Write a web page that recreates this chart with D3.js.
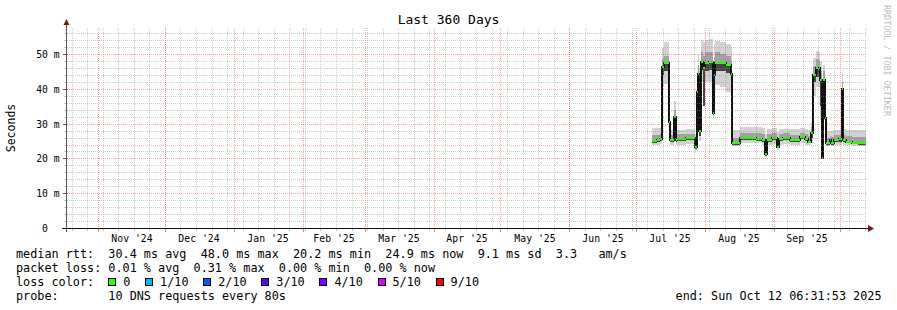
<!DOCTYPE html>
<html>
<head>
<meta charset="utf-8">
<script src="https://cdn.jsdelivr.net/npm/d3@7"></script>
<style>
  body { margin: 0; background: #fff; }
  svg { display: block; font-family: "DejaVu Sans Mono", monospace; }
  svg text { white-space: pre; }
</style>
</head>
<body>
<div id="chart"></div>
<script>
// ---- data (values in ms) ----
const title = "Last 360 Days";
const yTitle = "Seconds";
const watermark = "RRDTOOL / TOBI OETIKER";
const endTime = "2025-10-12T06:31:53Z";
const spanDays = 360;

const yTicks = [0, 10, 20, 30, 40, 50];
const yTickLabels = ["0  ", "10 m", "20 m", "30 m", "40 m", "50 m"];

const monthStarts = ["2024-11-01", "2024-12-01", "2025-01-01", "2025-02-01", "2025-03-01", "2025-04-01",
  "2025-05-01", "2025-06-01", "2025-07-01", "2025-08-01", "2025-09-01", "2025-10-01"];
const monthLabels = ["Nov '24", "Dec '24", "Jan '25", "Feb '25", "Mar '25", "Apr '25",
  "May '25", "Jun '25", "Jul '25", "Aug '25", "Sep '25"];

const sampleTimes = [
  "2025-07-08T05:00", "2025-07-10T11:00", "2025-07-11T19:00", "2025-07-12T17:00", "2025-07-13T14:00",
  "2025-07-15T17:00", "2025-07-16T07:00", "2025-07-18T02:00", "2025-07-19T00:00", "2025-07-19T11:00",
  "2025-07-23T14:00", "2025-07-27T14:00", "2025-07-28T12:00", "2025-07-28T23:00", "2025-07-29T12:00",
  "2025-07-30T01:00", "2025-07-31T03:00", "2025-08-01T00:00", "2025-08-02T19:00", "2025-08-04T15:00",
  "2025-08-05T02:00", "2025-08-05T12:00", "2025-08-07T19:00", "2025-08-10T11:00", "2025-08-12T18:00",
  "2025-08-13T08:00", "2025-08-16T19:00", "2025-08-20T10:00", "2025-08-24T00:00", "2025-08-26T17:00",
  "2025-08-28T01:00", "2025-08-28T23:00", "2025-08-31T04:00", "2025-09-02T16:00", "2025-09-03T03:00",
  "2025-09-05T04:00", "2025-09-08T07:00", "2025-09-12T19:00", "2025-09-15T01:00", "2025-09-16T10:00",
  "2025-09-17T19:00", "2025-09-18T17:00", "2025-09-20T02:00", "2025-09-21T00:00", "2025-09-21T10:00",
  "2025-09-21T21:00", "2025-09-22T18:00", "2025-09-23T05:00", "2025-09-24T00:00", "2025-09-24T15:00",
  "2025-09-26T10:00", "2025-09-26T21:00", "2025-09-28T00:00", "2025-09-30T02:00", "2025-09-30T13:00",
  "2025-10-01T15:00", "2025-10-02T07:00", "2025-10-03T12:00", "2025-10-06T05:00", "2025-10-08T22:00"
];
const medianRtt = [
  24.9, 25.3, 25.6, 46.4, 47.3, 30.5, 25.3, 32.0, 25.2, 25.7,
  25.9, 23.3, 39.0, 44.4, 28.0, 47.8, 45.9, 47.3, 47.6, 33.0,
  44.0, 47.3, 47.4, 46.8, 44.4, 24.3, 25.8, 26.0, 25.7, 25.3,
  21.2, 25.2, 25.8, 23.4, 25.5, 25.8, 25.3, 26.2, 25.5, 24.8,
  27.3, 44.0, 45.9, 45.7, 45.9, 42.5, 20.1, 42.5, 31.6, 24.3,
  25.3, 24.3, 25.3, 25.3, 25.5, 40.0, 25.3, 24.8, 24.5, 24.3
];
const minRtt = [
  23.9, 24.0, 24.2, 40.5, 41.5, 28.5, 23.9, 25.0, 23.9, 24.0,
  24.1, 22.2, 26.0, 33.0, 25.0, 42.0, 42.5, 42.0, 42.0, 31.5,
  41.0, 41.0, 40.5, 39.0, 37.5, 23.5, 24.3, 24.4, 24.3, 24.0,
  20.5, 23.8, 24.2, 22.5, 24.0, 24.2, 23.9, 24.3, 24.0, 23.9,
  24.5, 38.0, 40.5, 40.5, 40.5, 31.0, 19.8, 31.0, 29.0, 23.6,
  23.8, 23.6, 23.8, 23.8, 23.9, 25.0, 23.9, 23.8, 23.7, 23.6
];
const lowerRtt = [
  24.4, 24.7, 25.0, 44.0, 45.0, 29.5, 24.6, 27.0, 24.6, 25.0,
  25.2, 22.7, 33.0, 41.0, 26.5, 45.5, 35.0, 45.0, 45.5, 32.5,
  43.0, 45.0, 45.0, 44.5, 42.0, 23.9, 25.2, 25.4, 25.1, 24.8,
  20.8, 24.6, 25.2, 23.0, 25.0, 25.2, 24.7, 25.5, 24.9, 24.3,
  26.0, 42.0, 43.5, 43.5, 43.5, 35.0, 20.0, 36.0, 30.5, 24.0,
  24.6, 24.0, 24.7, 24.7, 24.8, 30.0, 24.7, 24.3, 24.1, 23.9
];
const upperRtt = [
  26.6, 26.8, 27.0, 48.5, 49.5, 33.0, 26.6, 34.0, 26.6, 27.0,
  27.0, 25.0, 42.0, 47.0, 40.0, 50.5, 49.5, 50.5, 50.5, 40.0,
  49.0, 50.5, 50.0, 49.5, 48.0, 26.0, 27.3, 27.4, 27.2, 27.0,
  23.5, 27.0, 27.3, 25.5, 27.0, 27.2, 26.8, 27.4, 27.0, 26.5,
  29.0, 46.5, 48.5, 48.5, 48.0, 45.0, 30.0, 45.0, 38.0, 26.0,
  26.5, 26.2, 26.6, 26.6, 26.6, 42.0, 26.6, 26.4, 26.3, 26.2
];
const maxRtt = [
  28.8, 28.8, 28.8, 51.7, 53.5, 36.0, 28.2, 36.5, 28.2, 28.3,
  28.4, 27.0, 45.0, 50.0, 46.0, 54.0, 53.5, 54.0, 54.2, 48.0,
  53.0, 53.8, 53.5, 53.0, 52.0, 28.2, 29.1, 29.1, 29.0, 28.8,
  27.0, 28.6, 28.8, 27.5, 28.6, 28.6, 28.6, 28.8, 28.6, 28.3,
  30.5, 48.9, 51.0, 51.0, 50.5, 48.0, 40.0, 47.0, 42.0, 28.0,
  28.0, 28.0, 28.2, 28.2, 28.2, 44.5, 28.4, 28.2, 28.2, 28.2
];
const lossIndex = [
  0, 0, 0, 0, 0, 0, 0, 0, 0, 0,
  0, 0, 0, 0, 0, 0, 0, 0, 0, 0,
  1, 0, 0, 0, 0, 0, 0, 0, 0, 0,
  0, 0, 0, 0, 0, 0, 0, 0, 0, 0,
  0, 0, 0, 1, 0, 0, 0, 0, 0, 0,
  1, 0, 0, 1, 0, 0, 0, 0, 0, 0
];

const lossLabels = ["0", "1/10", "2/10", "3/10", "4/10", "5/10", "9/10"];
const lossColors = ["#26ff00", "#00b8ff", "#0059ff", "#5e00ff", "#7e00ff", "#dd00ff", "#ff0000"];

const statLines = [
  "median rtt:  30.4 ms avg  48.0 ms max  20.2 ms min  24.9 ms now  9.1 ms sd  3.3   am/s",
  "packet loss: 0.01 % avg  0.31 % max  0.00 % min  0.00 % now"
];
const probeText = "probe:       10 DNS requests every 80s";
const endText = "end: Sun Oct 12 06:31:53 2025";

// ---- chart ----
const width = 897, height = 310;
const plot = { left: 67, right: 866, top: 28, bottom: 228 };

const parseTime = d3.utcParse("%Y-%m-%dT%H:%M");
const end = new Date(endTime);
const start = d3.utcDay.offset(end, -spanDays);

const x = d3.scaleUtc().domain([start, end]).range([65.5, 865.5]).interpolate(d3.interpolateRound);
const y = d3.scaleLinear().domain([0, 57.5]).range([plot.bottom, plot.top]).interpolate(d3.interpolateRound);

const rows = sampleTimes.map((t, i) => ({
  t: parseTime(t), med: medianRtt[i], min: minRtt[i], lo: lowerRtt[i],
  hi: upperRtt[i], max: maxRtt[i], loss: lossIndex[i]
}));
const stepRows = rows.concat([{ ...rows[rows.length - 1], t: end }]);

const svg = d3.select("#chart").append("svg")
  .attr("width", width).attr("height", height);

svg.append("rect").attr("width", width).attr("height", height).attr("fill", "#fff");

svg.append("clipPath").attr("id", "clip")
  .append("rect")
  .attr("x", plot.left).attr("y", plot.top)
  .attr("width", plot.right - plot.left).attr("height", plot.bottom - plot.top);

const data = svg.append("g").attr("clip-path", "url(#clip)").attr("shape-rendering", "crispEdges");

const band = (a, b) => d3.area()
  .curve(d3.curveStepAfter)
  .x(d => x(d.t))
  .y0(d => y(d[a]))
  .y1(d => y(d[b]));

// smoke
data.append("path").attr("d", band("min", "max")(stepRows)).attr("fill", "#d2d2d2");
data.append("path").attr("d", band("lo", "hi")(stepRows)).attr("fill", "#a2a2a2");
data.append("path").attr("d", band("lo", "med")(stepRows)).attr("fill", "#444");

// median: black steps, coloured by loss on the flat parts
data.append("path")
  .attr("d", d3.line().curve(d3.curveStepAfter).x(d => x(d.t)).y(d => y(d.med))(stepRows))
  .attr("fill", "none").attr("stroke", "#111").attr("stroke-width", 2);

data.selectAll(".med")
  .data(rows)
  .join("line")
  .attr("x1", d => x(d.t))
  .attr("x2", (d, i) => x(stepRows[i + 1].t))
  .attr("y1", d => y(d.med))
  .attr("y2", d => y(d.med))
  .attr("stroke", d => lossColors[d.loss])
  .attr("stroke-width", 2);

// grid (drawn over the graph, as rrdtool does)
const grid = svg.append("g").attr("stroke-dasharray", "1,1").attr("shape-rendering", "crispEdges");
const minorY = d3.range(2, 58, 2).filter(v => v % 10 !== 0);
const majorY = yTicks.filter(v => v > 0);
const weeks = d3.utcSunday.range(start, end);
const months = monthStarts.map(d => d3.utcParse("%Y-%m-%d")(d));

grid.selectAll(".hmin").data(minorY).join("line")
  .attr("x1", plot.left).attr("x2", plot.right)
  .attr("y1", d => y(d) + 0.5).attr("y2", d => y(d) + 0.5)
  .attr("stroke", "rgba(140,140,140,0.45)");
grid.selectAll(".vmin").data(weeks).join("line")
  .attr("x1", d => x(d) + 0.5).attr("x2", d => x(d) + 0.5)
  .attr("y1", plot.top).attr("y2", plot.bottom)
  .attr("stroke", "rgba(140,140,140,0.45)");
grid.selectAll(".hmaj").data(majorY).join("line")
  .attr("x1", plot.left).attr("x2", plot.right)
  .attr("y1", d => y(d) + 0.5).attr("y2", d => y(d) + 0.5)
  .attr("stroke", "rgba(255,0,0,0.38)");
grid.selectAll(".vmaj").data(months).join("line")
  .attr("x1", d => x(d) + 0.5).attr("x2", d => x(d) + 0.5)
  .attr("y1", plot.top).attr("y2", plot.bottom)
  .attr("stroke", "rgba(255,0,0,0.38)");

// small ticks on the axes
const ticks = svg.append("g").attr("shape-rendering", "crispEdges");
ticks.selectAll(".xt").data(weeks).join("line")
  .attr("x1", d => x(d) + 0.5).attr("x2", d => x(d) + 0.5)
  .attr("y1", 229).attr("y2", 231).attr("stroke", "#c8c8c8");
ticks.selectAll(".xm").data(months).join("line")
  .attr("x1", d => x(d) + 0.5).attr("x2", d => x(d) + 0.5)
  .attr("y1", 229).attr("y2", 232).attr("stroke", "#f08080");
ticks.selectAll(".yt").data(minorY).join("line")
  .attr("x1", 64).attr("x2", 66)
  .attr("y1", d => y(d) + 0.5).attr("y2", d => y(d) + 0.5)
  .attr("stroke", "#c8c8c8");

// y axis labels
const yAxis = svg.append("g")
  .attr("transform", "translate(66.5,0)")
  .call(d3.axisLeft(y).tickValues(yTicks).tickSize(4).tickPadding(3)
    .tickFormat((d, i) => yTickLabels[i]));
yAxis.select(".domain").remove();
yAxis.selectAll("line").attr("stroke", "#555").attr("shape-rendering", "crispEdges");
yAxis.selectAll("text").attr("font-family", "DejaVu Sans Mono").attr("font-size", 9.7).attr("fill", "#000");

// month labels, centred in each month
svg.append("g").selectAll("text")
  .data(monthLabels)
  .join("text")
  .attr("x", (d, i) => x(new Date((months[i].getTime() + months[i + 1].getTime()) / 2)))
  .attr("y", 242)
  .attr("text-anchor", "middle")
  .attr("font-size", 9.8)
  .text(d => d);

// axis lines and arrows
svg.append("line").attr("x1", 66.5).attr("x2", 66.5).attr("y1", 232).attr("y2", 24)
  .attr("stroke", "#555").attr("shape-rendering", "crispEdges");
svg.append("line").attr("x1", 62).attr("x2", 869).attr("y1", 228.5).attr("y2", 228.5)
  .attr("stroke", "#111").attr("shape-rendering", "crispEdges");
svg.append("path").attr("d", "M63.5,25 L69.5,25 L66.5,19 Z").attr("fill", "#7f1212");
svg.append("path").attr("d", "M868,225 L868,232 L874,228.5 Z").attr("fill", "#7f1212");

// titles
svg.append("text").attr("x", 448.5).attr("y", 24).attr("text-anchor", "middle")
  .attr("font-size", 13).text(title);
svg.append("text").attr("transform", "translate(15,128) rotate(-90)")
  .attr("text-anchor", "middle").attr("font-size", 11.5).text(yTitle);
svg.append("text").attr("transform", "translate(884,5) rotate(90)")
  .attr("font-size", 8.4).attr("fill", "#bdbdbd").text(watermark);

// legend
const legend = svg.append("g").attr("font-size", 11.8).attr("fill", "#000");
legend.selectAll(".stat").data(statLines).join("text")
  .attr("x", 16).attr("y", (d, i) => 258 + i * 14).text(d => d);
legend.append("text").attr("x", 16).attr("y", 286).text("loss color:");
let lx = 108.3;
lossLabels.forEach((lab, i) => {
  legend.append("rect").attr("x", lx + 0.5).attr("y", 278.5).attr("width", 7).attr("height", 7)
    .attr("fill", lossColors[i]).attr("stroke", "#000").attr("shape-rendering", "crispEdges");
  legend.append("text").attr("x", lx + 15).attr("y", 286).text(lab);
  lx += 15 + lab.length * 7.1 + 14.7;
});
legend.append("text").attr("x", 16).attr("y", 300).text(probeText);
legend.append("text").attr("x", 881.5).attr("y", 300).attr("text-anchor", "end").text(endText);
</script>
</body>
</html>
